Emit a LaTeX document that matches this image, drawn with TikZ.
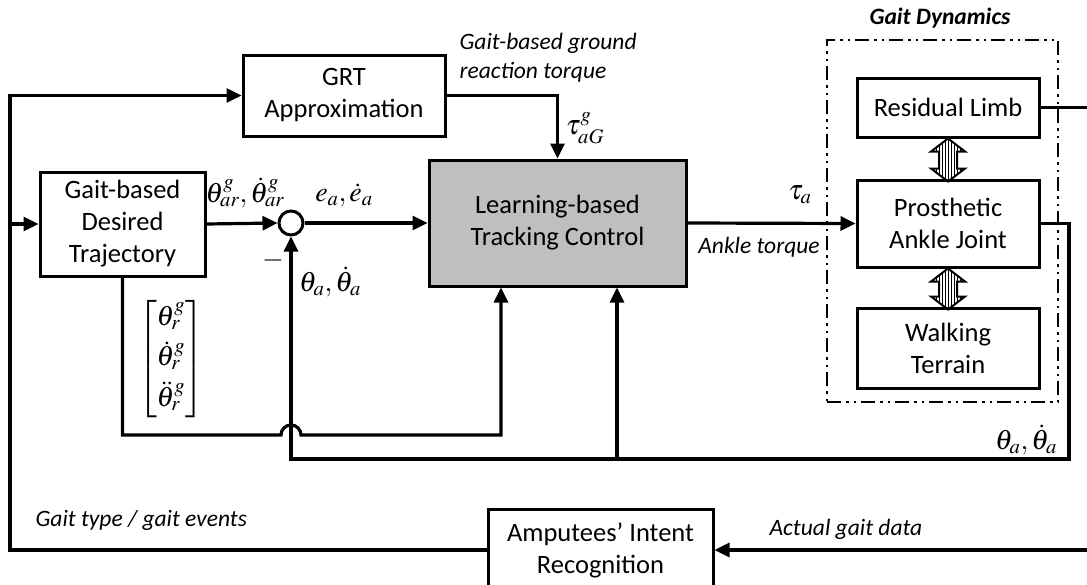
\documentclass[tikz,border=0pt]{standalone}
\usepackage{amsmath}
\usepackage{mathptmx}
\usepackage{fontspec}
\setmainfont{Carlito}
\usetikzlibrary{positioning, arrows.meta, patterns, calc}

\tikzset{
  block/.style={draw, rectangle, line width=3pt, align=center, inner sep=0pt,
    font=\fontsize{26.5}{32}\selectfont},
  lbl/.style={font=\fontsize{23.5}{29}\selectfont\itshape, inner sep=0pt},
  mlbl/.style={font=\fontsize{28}{30}\selectfont, inner sep=0pt},
  dblhatch/.style={draw, line width=2pt, pattern=vertical lines, line join=miter},
}

% hatched double arrow between two vertically stacked blocks
\newcommand{\hatcharrow}[2]{%
  \begin{scope}[shift={(#1)}]
    \draw[dblhatch] (0,0) -- (17,13) -- (9,13) -- (9,#2-13) -- (17,#2-13) -- (0,#2)
      -- (-17,#2-13) -- (-9,#2-13) -- (-9,13) -- (-17,13) -- cycle;
  \end{scope}}

\begin{document}
\begin{tikzpicture}[x=1pt, y=-1pt, >={Triangle[length=15pt, width=14pt]},
    line width=3.2pt]
\useasboundingbox (0,0) rectangle (1087,584);
\clip (0,0) rectangle (1087,584);

% Blocks
\node (grt) [block, minimum width=202pt, minimum height=81pt] at (344,95.5) {GRT\\Approximation};
\node (traj) [block, minimum width=165pt, minimum height=104pt] at (122.5,224) {Gait-based\\Desired\\Trajectory};
\node (sum) [circle, draw, line width=3pt, minimum size=24pt, inner sep=0pt] at (291,223) {};
\node (learn) [block, fill=black!25, minimum width=257pt, minimum height=126pt] at (557.5,223) {Learning-based\\Tracking Control};
\node (intent) [block, minimum width=225pt, minimum height=82pt] at (600.5,550) {Amputees' Intent\\Recognition};

% Gait dynamics group
\node (dyn) [draw, line width=2pt, dash pattern=on 14pt off 5pt on 2.5pt off 5pt on 2.5pt off 5pt,
  minimum width=231pt, minimum height=362pt] at (942.5,221) {};
\node (dyntitle) [lbl, font=\fontsize{23.5}{29}\selectfont\bfseries\itshape] at (940,18) {Gait Dynamics};
\node (limb) [block, minimum width=182pt, minimum height=59pt] at (948,107.5) {Residual Limb};
\node (ankle) [block, minimum width=182pt, minimum height=87pt] at (948,223.5) {Prosthetic\\Ankle Joint};
\node (terrain) [block, minimum width=182pt, minimum height=80pt] at (948,348) {Walking\\Terrain};
\hatcharrow{limb.south}{43}
\hatcharrow{ankle.south}{41}

% Helper coordinates
\coordinate (corner) at (10,550);
\coordinate (jmp) at (291,435);
\coordinate (tap) at (617,459);
\coordinate (fbr) at (1069,459);
\coordinate (edge) at (1095,300);

% Connections
\draw[->] (intent.west) -- (corner) |- (grt.west);
\draw[->] (corner |- traj.west) -- (traj.west);
\draw[->] (traj.east) -- (sum.west);
\draw[->] (sum.east) -- (learn.west);
\draw[->] (grt.east) -| (learn.north);
\draw[->] (learn.east) -- (ankle.west);
\draw[->] (ankle.east) -| (fbr) -| (sum.south);
\draw[->] (tap) -- (tap |- learn.south);
\draw[->] (traj.south) -- (traj.south |- jmp) -- ($(jmp)+(-10,0)$)
  arc[start angle=180, end angle=0, radius=10pt] -- (501,435) -- (501,435 |- learn.south);
\draw[->] (limb.east) -| (edge) |- (intent.east);

% Labels
\node (thar) [mlbl] at (245,193) {$\theta^g_{ar},\dot\theta^g_{ar}$};
\node (ea) [mlbl] at (344,195) {$e_a,\dot e_a$};
\node (minus) [mlbl] at (273,260) {$-$};
\node (tha1) [mlbl] at (330,282) {$\theta_a,\dot\theta_a$};
\node (taug) [mlbl] at (585,128) {$\tau^g_{aG}$};
\node (taua) [mlbl] at (800,195) {$\tau_a$};
\node (trajvec) [mlbl] at (171,359) {$\begin{bmatrix}\theta^g_r\\[7pt] \dot\theta^g_r\\[7pt] \ddot\theta^g_r\end{bmatrix}$};
\node (tha2) [mlbl] at (1026,440) {$\theta_a,\dot\theta_a$};
\node (grtlbl) [lbl, align=left, anchor=west] at (458,57.5) {Gait-based ground\\reaction torque};
\node (tqlbl) [lbl] at (759,247) {Ankle torque};
\node (gtype) [lbl, anchor=west] at (34,520) {Gait type / gait events};
\node (actual) [lbl, anchor=west] at (768,529) {Actual gait data};

\end{tikzpicture}
\end{document}
